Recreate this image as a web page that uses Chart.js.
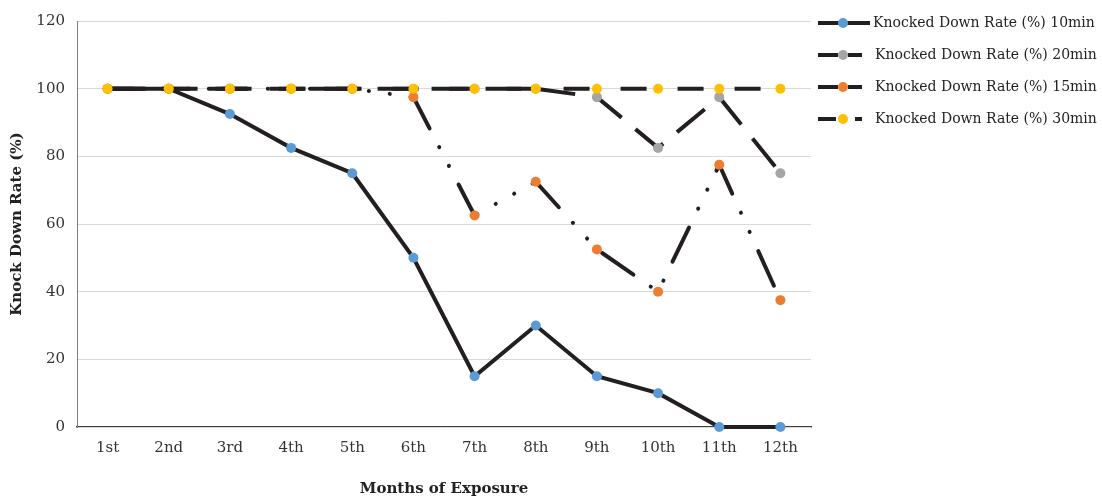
<!DOCTYPE html>
<html>
<head>
<meta charset="utf-8">
<script src="https://cdn.jsdelivr.net/npm/chart.js@4.4.0/dist/chart.umd.min.js"></script>
<style>
  html, body { margin: 0; padding: 0; background: #fff; }
</style>
</head>
<body>
<canvas id="chart" width="1102" height="501"></canvas>
<script>
// months on the x axis
const months = ['1st', '2nd', '3rd', '4th', '5th', '6th', '7th', '8th', '9th', '10th', '11th', '12th'];

// knocked down rate (%) per exposure time
const rate10 = [100, 100, 92.5, 82.5, 75, 50, 15, 30, 15, 10, 0, 0];
const rate20 = [100, 100, 100, 100, 100, 100, 100, 100, 97.5, 82.5, 97.5, 75];
const rate15 = [100, 100, 100, 100, 100, 97.5, 62.5, 72.5, 52.5, 40, 77.5, 37.5];
const rate30 = [100, 100, 100, 100, 100, 100, 100, 100, 100, 100, 100, 100];

const yTicks = [0, 20, 40, 60, 80, 100, 120];

const lineColor = '#231f20';
const serif = "'DejaVu Serif', serif";

// legend is drawn by hand so the sample line can carry the dash pattern and marker
const legendPlugin = {
  id: 'sideLegend',
  afterDraw(chart) {
    const ctx = chart.ctx;
    const ys = [23, 55, 87, 119];
    ctx.save();
    chart.data.datasets.forEach((ds, i) => {
      const y = ys[i];
      ctx.beginPath();
      ctx.setLineDash(ds.legendDash || []);
      ctx.lineCap = 'butt';
      ctx.strokeStyle = lineColor;
      ctx.lineWidth = 4;
      ctx.moveTo(818, y);
      ctx.lineTo(i === 0 ? 870 : 862, y);
      ctx.stroke();
      ctx.setLineDash([]);
      ctx.beginPath();
      ctx.fillStyle = ds.pointBackgroundColor;
      ctx.arc(843, y, 5, 0, Math.PI * 2);
      ctx.fill();
      ctx.fillStyle = '#222';
      ctx.font = '14px ' + serif;
      ctx.textBaseline = 'middle';
      ctx.fillText(ds.label, i === 0 ? 873 : 875, y);
    });
    ctx.restore();
  }
};

const ctx = document.getElementById('chart').getContext('2d');

new Chart(ctx, {
  type: 'line',
  data: {
    labels: months,
    datasets: [
      {
        label: 'Knocked Down Rate (%) 10min',
        data: rate10,
        borderColor: lineColor,
        borderWidth: 4,
        pointBackgroundColor: '#5b9bd5',
        pointBorderWidth: 0,
        pointRadius: 5,
        clip: false,
        order: 3,
      },
      {
        label: 'Knocked Down Rate (%) 20min',
        data: rate20,
        borderColor: lineColor,
        borderWidth: 4,
        borderDash: [36, 18],
        legendDash: [20, 10],
        pointBackgroundColor: '#a5a5a5',
        pointBorderWidth: 0,
        pointRadius: 5,
        clip: false,
        order: 2,
      },
      {
        label: 'Knocked Down Rate (%) 15min',
        data: rate15,
        borderColor: lineColor,
        borderWidth: 4,
        borderDash: [38, 21, 0.1, 21, 0.1, 21],
        borderCapStyle: 'round',
        legendDash: [20, 10],
        pointBackgroundColor: '#ed7d31',
        pointBorderWidth: 0,
        pointRadius: 5,
        clip: false,
        order: 1,
      },
      {
        label: 'Knocked Down Rate (%) 30min',
        data: rate30,
        borderColor: lineColor,
        borderWidth: 4,
        borderDash: [26, 31],
        legendDash: [18, 19, 7, 20],
        pointBackgroundColor: '#ffc000',
        pointBorderWidth: 0,
        pointRadius: 5,
        clip: false,
        order: 0,
      },
    ],
  },
  options: {
    responsive: false,
    animation: false,
    layout: {
      autoPadding: false,
      padding: { top: 19, right: 291, bottom: 0, left: 8 },
    },
    plugins: {
      legend: { display: false },
      tooltip: { enabled: false },
    },
    elements: {
      line: { tension: 0 },
      point: { hoverRadius: 5 },
    },
    scales: {
      x: {
        offset: true,
        grid: { display: false, drawTicks: false },
        border: { color: '#404040', width: 1.5, z: -1 },
        ticks: {
          color: '#333',
          font: { family: serif, size: 15 },
          padding: 12,
          maxRotation: 0,
        },
        title: {
          display: true,
          text: 'Months of Exposure',
          color: '#222',
          font: { family: serif, size: 15, weight: 'bold' },
          padding: { top: 4, bottom: 3 },
        },
        afterFit: (scale) => { scale.height = 74; },
      },
      y: {
        min: 0,
        max: 120,
        afterBuildTicks: (scale) => { scale.ticks = yTicks.map(v => ({ value: v })); },
        grid: { color: '#d9d9d9', lineWidth: 1, drawTicks: false },
        border: { color: '#7f7f7f', width: 1 },
        ticks: {
          color: '#333',
          font: { family: serif, size: 15 },
          padding: 12,
        },
        title: {
          display: true,
          text: 'Knock Down Rate (%)',
          color: '#222',
          font: { family: serif, size: 15, weight: 'bold' },
          padding: { top: 0, bottom: 4 },
        },
        afterFit: (scale) => { scale.width = 69; },
      },
    },
  },
  plugins: [legendPlugin],
});
</script>
</body>
</html>
